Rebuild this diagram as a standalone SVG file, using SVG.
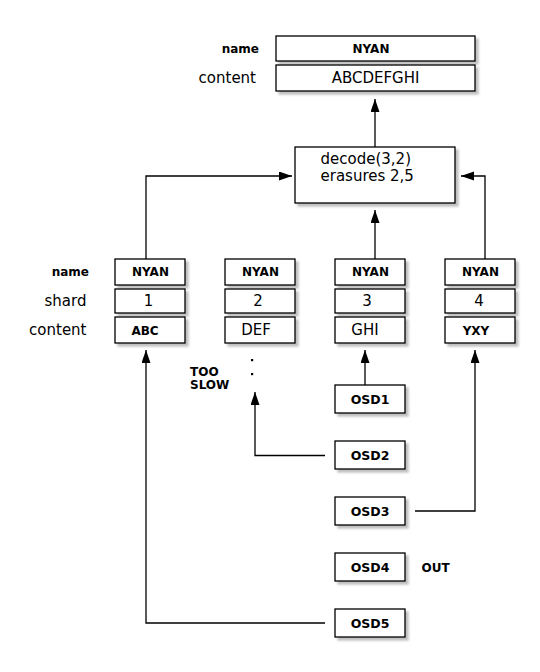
<svg xmlns="http://www.w3.org/2000/svg" width="540" height="672" viewBox="0 0 540 672">
<style>
  .box { fill: #fff; stroke: #000; stroke-width: 1.3; }
  .sh { filter: url(#shadow); }
  .line { fill: none; stroke: #000; stroke-width: 1.3; }
  text { font-family: "DejaVu Sans", "Verdana", sans-serif; fill: #000; }
  .b { font-weight: bold; font-size: 12px; }
  .r { font-size: 15px; }
  .osd { font-weight: bold; font-size: 12.5px; text-anchor: middle; }
  .m { text-anchor: middle; }
  .e { text-anchor: end; }
</style>
<defs>
  <filter id="shadow" x="-10%" y="-10%" width="130%" height="140%">
    <feDropShadow dx="3" dy="3" stdDeviation="1.2" flood-color="#000" flood-opacity="0.25"/>
  </filter>
  <marker id="arr" markerUnits="userSpaceOnUse" markerWidth="14" markerHeight="10" refX="13" refY="4.5" orient="auto">
    <path d="M0,0 L13,4.5 L0,9 z" fill="#000"/>
  </marker>
</defs>
<rect width="540" height="672" fill="#fff"/>

<g id="connectors">
  <path class="line" d="M375,147 V99" marker-end="url(#arr)"/>
  <path class="line" d="M146,259 V176 H292" marker-end="url(#arr)"/>
  <path class="line" d="M375,259 V210" marker-end="url(#arr)"/>
  <path class="line" d="M485,259 V176 H461" marker-end="url(#arr)"/>
  <path class="line" d="M365,385 V350" marker-end="url(#arr)"/>
  <path class="line" d="M325,455.5 H255 V392" marker-end="url(#arr)"/>
  <path class="line" d="M415,511 H475 V350" marker-end="url(#arr)"/>
  <path class="line" d="M325,623 H146 V350" marker-end="url(#arr)"/>
</g>

<g id="object">
  <text class="b e" x="259" y="53">name</text>
  <text class="r e" x="256" y="83">content</text>
  <rect class="box sh" x="276" y="36" width="199" height="25"/>
  <text class="b m" x="371" y="53" font-size="11.5">NYAN</text>
  <rect class="box sh" x="276" y="65" width="199" height="26"/>
  <text class="r m" x="375.5" y="83">ABCDEFGHI</text>
</g>

<g id="decode">
  <rect class="box sh" x="295" y="147" width="160" height="56"/>
  <text class="r" x="320.5" y="163.5" font-size="14">decode(3,2)</text>
  <text class="r" x="320.5" y="180.5" font-size="14">erasures 2,5</text>
</g>

<g id="row-labels">
  <text class="b e" x="89" y="276">name</text>
  <text class="r e" x="86.5" y="306">shard</text>
  <text class="r e" x="86.5" y="335">content</text>
</g>

<g id="shard1">
  <rect class="box sh" x="115" y="259" width="70" height="26"/>
  <text class="b m" x="150.5" y="276" font-size="11.5">NYAN</text>
  <rect class="box sh" x="115" y="289" width="70" height="24"/>
  <text class="r m" x="148.5" y="306">1</text>
  <rect class="box sh" x="115" y="317" width="70" height="26"/>
  <text class="b m" x="145" y="335" font-size="13">ABC</text>
</g>
<g id="shard2">
  <rect class="box sh" x="225" y="259" width="70" height="26"/>
  <text class="b m" x="260.5" y="276" font-size="11.5">NYAN</text>
  <rect class="box sh" x="225" y="289" width="70" height="24"/>
  <text class="r m" x="258" y="306">2</text>
  <rect class="box sh" x="225" y="317" width="70" height="26"/>
  <text class="r m" x="256" y="335">DEF</text>
</g>
<g id="shard3">
  <rect class="box sh" x="335" y="259" width="70" height="26"/>
  <text class="b m" x="370.5" y="276" font-size="11.5">NYAN</text>
  <rect class="box sh" x="335" y="289" width="70" height="24"/>
  <text class="r m" x="367" y="306">3</text>
  <rect class="box sh" x="335" y="317" width="70" height="26"/>
  <text class="r m" x="365" y="335">GHI</text>
</g>
<g id="shard4">
  <rect class="box sh" x="445" y="259" width="70" height="26"/>
  <text class="b m" x="480.5" y="276" font-size="11.5">NYAN</text>
  <rect class="box sh" x="445" y="289" width="70" height="24"/>
  <text class="r m" x="479" y="306">4</text>
  <rect class="box sh" x="445" y="317" width="70" height="26"/>
  <text class="b m" x="476" y="335" font-size="13">YXY</text>
</g>

<g id="too-slow">
  <text class="b" x="190" y="376" font-size="11">TOO</text>
  <text class="b" x="190" y="389" font-size="11">SLOW</text>
  <rect x="251" y="359" width="2.2" height="2.2" fill="#000"/>
  <rect x="251" y="373" width="2.2" height="2.2" fill="#000"/>
</g>

<g id="osd1">
  <rect class="box sh" x="335" y="385" width="70" height="28"/>
  <text class="osd" x="370" y="403.5">OSD1</text>
</g>
<g id="osd2">
  <rect class="box sh" x="335" y="441" width="70" height="28"/>
  <text class="osd" x="370" y="459.5">OSD2</text>
</g>
<g id="osd3">
  <rect class="box sh" x="335" y="497" width="70" height="28"/>
  <text class="osd" x="370" y="515.5">OSD3</text>
</g>
<g id="osd4">
  <rect class="box sh" x="335" y="553" width="70" height="28"/>
  <text class="osd" x="370" y="571.5">OSD4</text>
  <text class="b" x="421.5" y="572" font-size="11.5">OUT</text>
</g>
<g id="osd5">
  <rect class="box sh" x="335" y="609" width="70" height="28"/>
  <text class="osd" x="370" y="627.5">OSD5</text>
</g>
</svg>
